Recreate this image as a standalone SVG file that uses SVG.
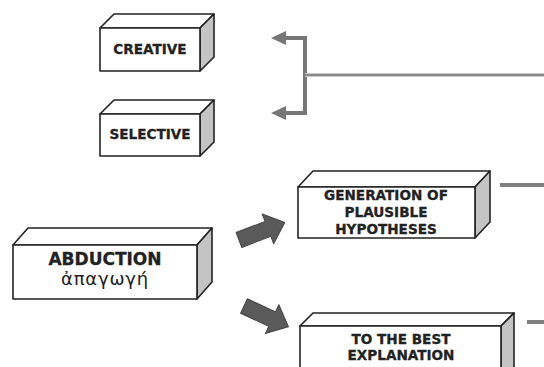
<svg xmlns="http://www.w3.org/2000/svg" width="544" height="367" viewBox="0 0 544 367">
<defs>
<style>
.front{fill:#fff;stroke:#222;stroke-width:1.6;stroke-linejoin:round}
.top{fill:#fff;stroke:#222;stroke-width:1.6;stroke-linejoin:round}
.side{fill:#c4c4c4;stroke:#222;stroke-width:1.6;stroke-linejoin:round}
.lbl{font-family:"DejaVu Sans",Verdana,sans-serif;font-weight:bold;font-size:13.6px;fill:#222;stroke:#222;stroke-width:0.3;text-anchor:middle}
.big{font-family:"DejaVu Sans",Verdana,sans-serif;font-weight:bold;font-size:17px;fill:#222;stroke:#222;stroke-width:0.3;text-anchor:middle}
.greek{font-family:"DejaVu Sans",Verdana,sans-serif;font-size:18px;letter-spacing:0.8px;fill:#222;text-anchor:middle}
.blk{fill:#5a5a5a;stroke:#444;stroke-width:1;stroke-linejoin:round}
.br{fill:none;stroke:#777;stroke-width:4}
.hd{fill:#777}
</style>
</defs>
<rect width="544" height="367" fill="#fff"/>
<g id="connectors">
<path class="br" d="M284,38 H305 V113 H284"/>
<polygon class="hd" points="271,38 286,31 286,45"/>
<polygon class="hd" points="271,113 286,106 286,120"/>
<line x1="305" y1="75" x2="544" y2="75" stroke="#c8c8c8" stroke-width="4"/>
<line x1="305" y1="75" x2="544" y2="75" stroke="#8a8a8a" stroke-width="2"/>
<line x1="500" y1="185" x2="544" y2="185" stroke="#808080" stroke-width="4"/>
<line x1="527" y1="322" x2="544" y2="322" stroke="#808080" stroke-width="4"/>
<polygon class="blk" transform="translate(239,240) rotate(-21)" points="0,-8 31,-8 31,-16 49,0 31,16 31,8 0,8"/>
<polygon class="blk" transform="translate(244,306) rotate(25)" points="0,-8 31,-8 31,-16 49,0 31,16 31,8 0,8"/>
</g>
<g id="creative">
<polygon class="top" points="100,28 114,14 214,14 200,28"/>
<polygon class="side" points="200,28 214,14 214,57 200,71"/>
<rect class="front" x="100" y="28" width="100" height="43"/>
<text class="lbl" x="150" y="54">CREATIVE</text>
</g>
<g id="selective">
<polygon class="top" points="100,114 114,100 214,100 200,114"/>
<polygon class="side" points="200,114 214,100 214,142 200,156"/>
<rect class="front" x="100" y="114" width="100" height="42"/>
<text class="lbl" x="150" y="139">SELECTIVE</text>
</g>
<g id="abduction">
<polygon class="top" points="13,245 28,228 212,228 197,245"/>
<polygon class="side" points="197,245 212,228 212,282 197,299"/>
<rect class="front" x="13" y="245" width="184" height="54"/>
<text class="big" x="105" y="265">ABDUCTION</text>
<text class="greek" x="105" y="285">ἀπαγωγή</text>
</g>
<g id="generation">
<polygon class="top" points="298,187 313,171 490,171 475,187"/>
<polygon class="side" points="475,187 490,171 490,222 475,238"/>
<rect class="front" x="298" y="187" width="177" height="51"/>
<text class="lbl" x="386" y="200">GENERATION OF</text>
<text class="lbl" x="386" y="217">PLAUSIBLE</text>
<text class="lbl" x="386" y="234">HYPOTHESES</text>
</g>
<g id="best">
<polygon class="top" points="300,326 313,313 514,313 501,326"/>
<polygon class="side" points="501,326 514,313 514,367 501,380"/>
<rect class="front" x="300" y="326" width="201" height="54"/>
<text class="lbl" x="401" y="344">TO THE BEST</text>
<text class="lbl" x="401" y="360">EXPLANATION</text>
</g>
</svg>
